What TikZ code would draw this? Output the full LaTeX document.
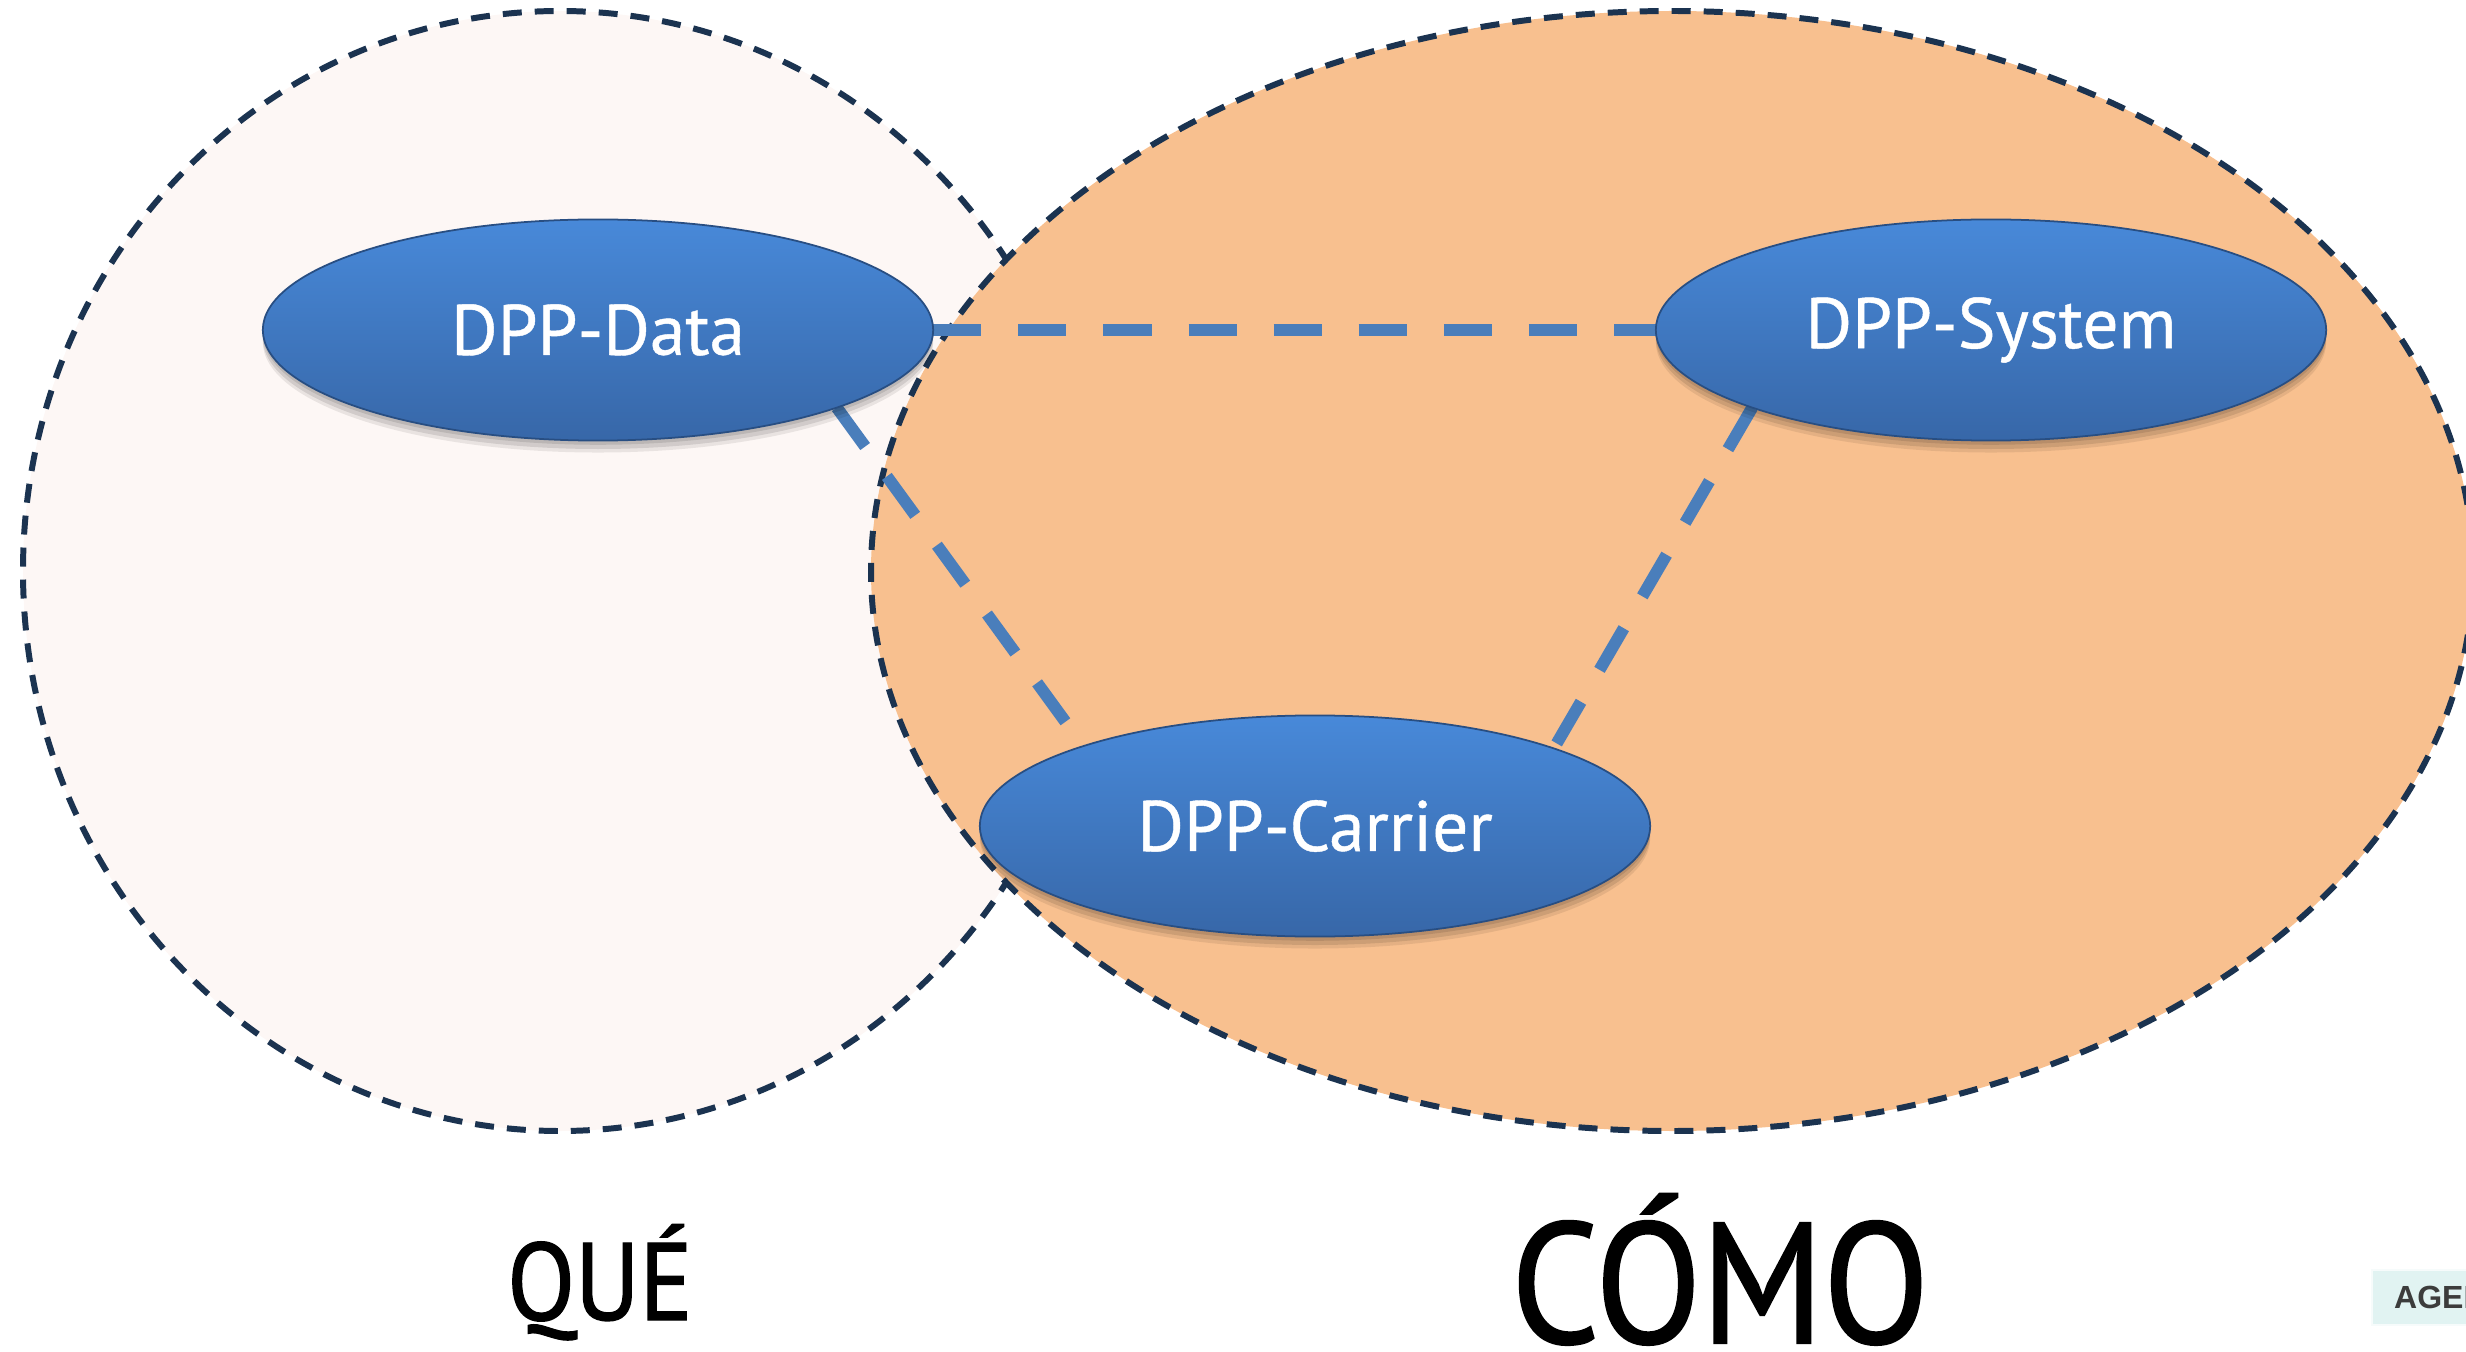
\documentclass[tikz,border=0pt]{standalone}
\usepackage{fontspec}
\setmainfont{PT Sans}
\newfontfamily\headfont[FakeStretch=0.9,FakeBold=1.2]{PT Sans}
\newfontfamily\partfont[FakeBold=0.6]{PT Sans}
\newfontfamily\tabfont{Liberation Sans}
\usetikzlibrary{shapes.geometric}

\definecolor{navyline}{RGB}{27,51,80}
\definecolor{quefill}{RGB}{253,247,245}
\definecolor{comofill}{RGB}{248,192,143}
\definecolor{linkblue}{RGB}{74,126,187}
\definecolor{nodetop}{RGB}{72,137,217}
\definecolor{nodebot}{RGB}{55,103,168}
\definecolor{nodeedge}{RGB}{40,78,130}
\definecolor{tabfill}{RGB}{225,243,242}
\definecolor{tabtext}{RGB}{60,60,60}

\pgfdeclarelayer{zones}
\pgfdeclarelayer{links}
\pgfsetlayers{zones,links,main}

\begin{document}
\begin{tikzpicture}[x=0.01cm, y=-0.01cm,
  zone/.style={fill=#1, draw=navyline, line width=1.7pt,
    dash pattern=on 5.4pt off 3.7pt},
  softshadow/.style={preaction={fill=black, fill opacity=#1,
    transform canvas={yshift=-1.2pt}}},
  dpp/.style={ellipse, minimum width=6.70cm, minimum height=2.21cm,
    inner sep=0pt, outer sep=0pt, draw=nodeedge, line width=0.5pt,
    softshadow=0.10,
    preaction={fill=black, fill opacity=0.10, transform canvas={yshift=-2.4pt}},
    preaction={fill=black, fill opacity=0.08, transform canvas={yshift=-3.4pt}},
    top color=nodetop, bottom color=nodebot,
    text=white, font=\partfont\fontsize{20.3}{24}\selectfont},
  link/.style={draw=linkblue, line width=3.4pt,
    dash pattern=on 13.7pt off 10.5pt},
  heading/.style={anchor=base, inner sep=0pt, text=black},
  tab/.style={anchor=west, fill=tabfill, draw=white!70!tabfill,
    line width=0.6pt, minimum height=0.55cm, inner xsep=6.3pt,
    inner ysep=0pt, text=tabtext,
    font=\tabfont\bfseries\fontsize{9.1}{11}\selectfont}]
\useasboundingbox (0,0) rectangle (2466,1352);

% the "what" circle, with the "how" ellipse laid over it
\begin{pgfonlayer}{zones}
  \draw[zone=quefill] (560,571) ellipse [x radius=537, y radius=560];
  \draw[zone=comofill] (1672,571) ellipse [x radius=801, y radius=560];
\end{pgfonlayer}

% the three DPP parts
\node[dpp] (data)    at (598,330)  {DPP-Data};
\node[dpp] (system)  at (1991,330) {DPP-System};
\node[dpp] (carrier) at (1315,826) {DPP-Carrier};

% dashed links between the connection points of the ellipses
\begin{pgfonlayer}{links}
  \draw[link] (data.east) -- (system.west);
  \draw[link] (data.-18.25) -- (carrier.161.75);
  \draw[link] (system.198.25) -- (carrier.18.25);
\end{pgfonlayer}

% headings under the two zones
\node[heading, font=\headfont\fontsize{31.3}{36}\selectfont] (que) at (600,1320) {QUÉ};
\node[heading, font=\headfont\fontsize{48.8}{56}\selectfont] (como) at (1720,1343) {CÓMO};

% tab cut by the right edge
\node[tab] (agenda) at (2371,1297.5) {AGEN\hspace{20pt}};
\end{tikzpicture}
\end{document}
